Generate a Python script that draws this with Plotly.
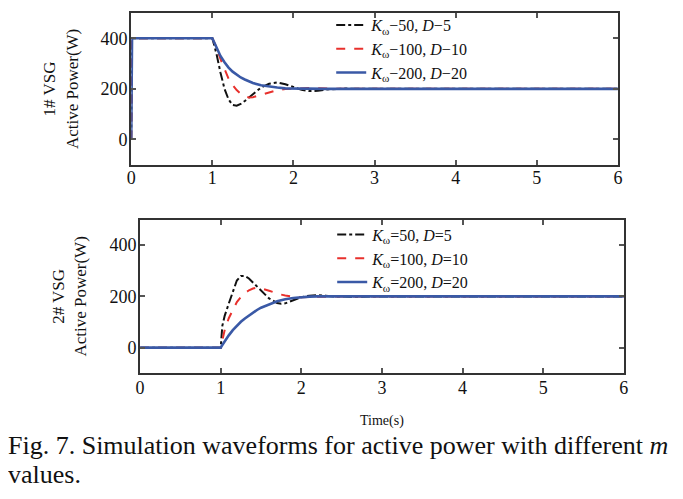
import plotly.graph_objects as go

# ---------------- data ----------------
# 1# VSG
t_top = [0, 0.01, 1.0, 1.05, 1.1, 1.15, 1.2, 1.25, 1.3, 1.35, 1.4, 1.45, 1.5,
         1.6, 1.7, 1.8, 1.9, 2.0, 2.1, 2.2, 2.3, 2.4, 2.6, 3.0, 4.0, 5.0, 6.0]
p1_k50 = [0, 400, 400, 340, 265, 200, 158, 136, 133, 140, 152, 165, 180,
          205, 220, 225, 218, 206, 196, 191, 192, 197, 201, 200, 200, 200, 200]
p1_k100 = [0, 400, 400, 365, 318, 275, 240, 215, 195, 180, 170, 166, 167,
           176, 187, 195, 199, 201, 203, 203, 202, 201, 200, 200, 200, 200, 200]
p1_k200 = [0, 400, 400, 362, 330, 305, 284, 268, 256, 245, 237, 229, 223,
           214, 208, 205, 202, 201, 200, 200, 200, 200, 200, 200, 200, 200, 200]

# 2# VSG
t_bot = [0, 1.0, 1.02, 1.05, 1.1, 1.15, 1.2, 1.25, 1.3, 1.35, 1.4, 1.45, 1.5,
         1.6, 1.7, 1.75, 1.8, 1.9, 2.0, 2.1, 2.2, 2.3, 2.4, 2.6, 3.0, 4.0, 5.0, 6.0]
p2_k50 = [0, 0, 85, 125, 172, 220, 262, 280, 280, 270, 255, 240, 222,
          192, 174, 171, 173, 186, 197, 203, 205, 203, 200, 199, 200, 200, 200, 200]
p2_k100 = [0, 0, 28, 70, 115, 150, 178, 198, 213, 224, 231, 234, 232,
           222, 211, 207, 204, 199, 197, 197, 198, 199, 200, 200, 200, 200, 200, 200]
p2_k200 = [0, 0, 10, 25, 48, 68, 86, 101, 114, 126, 136, 147, 156,
           170, 181, 185, 189, 194, 197, 199, 200, 200, 200, 200, 200, 200, 200, 200]

names_top = ["<i>K</i><sub>ω</sub>−50, <i>D</i>−5",
             "<i>K</i><sub>ω</sub>−100, <i>D</i>−10",
             "<i>K</i><sub>ω</sub>−200, <i>D</i>−20"]
names_bot = ["<i>K</i><sub>ω</sub>=50, <i>D</i>=5",
             "<i>K</i><sub>ω</sub>=100, <i>D</i>=10",
             "<i>K</i><sub>ω</sub>=200, <i>D</i>=20"]
x_ticks = [0, 1, 2, 3, 4, 5, 6]
y_ticks = [0, 200, 400]

colors = ["#111111", "#e8302c", "#3a59a6"]
dashes = ["dashdot", "dash", "solid"]
widths = [2, 2, 2.6]

FONT = "Liberation Serif"
OFF = 8                      # page body margin
W, H = 683 - OFF, 499 - OFF

fig = go.Figure()
for i, ys in enumerate([p1_k50, p1_k100, p1_k200]):
    fig.add_trace(go.Scatter(x=t_top, y=ys, mode="lines", name=names_top[i],
                             line=dict(color=colors[i], dash=dashes[i], width=widths[i]),
                             xaxis="x", yaxis="y", legend="legend"))
for i, ys in enumerate([p2_k50, p2_k100, p2_k200]):
    fig.add_trace(go.Scatter(x=t_bot, y=ys, mode="lines", name=names_bot[i],
                             line=dict(color=colors[i], dash=dashes[i], width=widths[i]),
                             xaxis="x2", yaxis="y2", legend="legend2"))

def px_x(p):
    return (p - OFF) / W

def px_y(p):
    return 1 - (p - OFF) / H

axis_common = dict(showgrid=False, zeroline=False, showline=True, linecolor="#333333",
                   linewidth=2, mirror="allticks", ticks="inside", ticklen=5,
                   tickcolor="#555555", tickwidth=1.5,
                   tickfont=dict(family=FONT, size=18, color="#111111"))

fig.update_layout(
    width=W, height=H,
    margin=dict(l=0, r=0, t=0, b=0),
    paper_bgcolor="white", plot_bgcolor="white",
    font=dict(family=FONT, color="#111111"),
    xaxis=dict(domain=[px_x(128), px_x(622)], range=[0, 6], tickvals=x_ticks,
               anchor="y", ticklabelstandoff=-4, **axis_common),
    yaxis=dict(domain=[px_y(164), px_y(12)], range=[-100, 500], tickvals=y_ticks,
               anchor="x", ticklabelstandoff=-2, **axis_common),
    xaxis2=dict(domain=[px_x(137), px_x(628)], range=[0, 6], tickvals=x_ticks,
                anchor="y2", ticklabelstandoff=-3, **axis_common),
    yaxis2=dict(domain=[px_y(373), px_y(219)], range=[-100, 500], tickvals=y_ticks,
                anchor="x2", ticklabelstandoff=-2, **axis_common),
    legend=dict(x=px_x(331), y=px_y(7), xanchor="left", yanchor="top",
                bgcolor="rgba(0,0,0,0)", font=dict(family=FONT, size=16, color="#111111"),
                tracegroupgap=0),
    legend2=dict(x=px_x(332), y=px_y(217), xanchor="left", yanchor="top",
                 bgcolor="rgba(0,0,0,0)", font=dict(family=FONT, size=16, color="#111111"),
                 tracegroupgap=0),
    showlegend=True,
)

annotations = [
    dict(text="1# VSG<br>Active Power(W)", x=px_x(57), y=px_y(88), xref="paper", yref="paper",
         xanchor="center", yanchor="middle",
         textangle=-90, showarrow=False, font=dict(family=FONT, size=17)),
    dict(text="2# VSG<br>Active Power(W)", x=px_x(65), y=px_y(296), xref="paper", yref="paper",
         xanchor="center", yanchor="middle",
         textangle=-90, showarrow=False, font=dict(family=FONT, size=17)),
    dict(text="Time(s)", x=px_x(383), y=px_y(421), xref="paper", yref="paper",
         xanchor="center", yanchor="middle",
         showarrow=False, font=dict(family=FONT, size=14)),
    dict(text="Fig. 7. Simulation waveforms for active power with different <i>m</i>",
         x=px_x(1), y=px_y(445), xref="paper", yref="paper", xanchor="left", yanchor="middle",
         showarrow=False, font=dict(family=FONT, size=26)),
    dict(text="values.", x=px_x(1), y=px_y(474), xref="paper", yref="paper", xanchor="left",
         yanchor="middle", showarrow=False, font=dict(family=FONT, size=26)),
]
fig.update_layout(annotations=annotations)

fig.write_html("out.html")
